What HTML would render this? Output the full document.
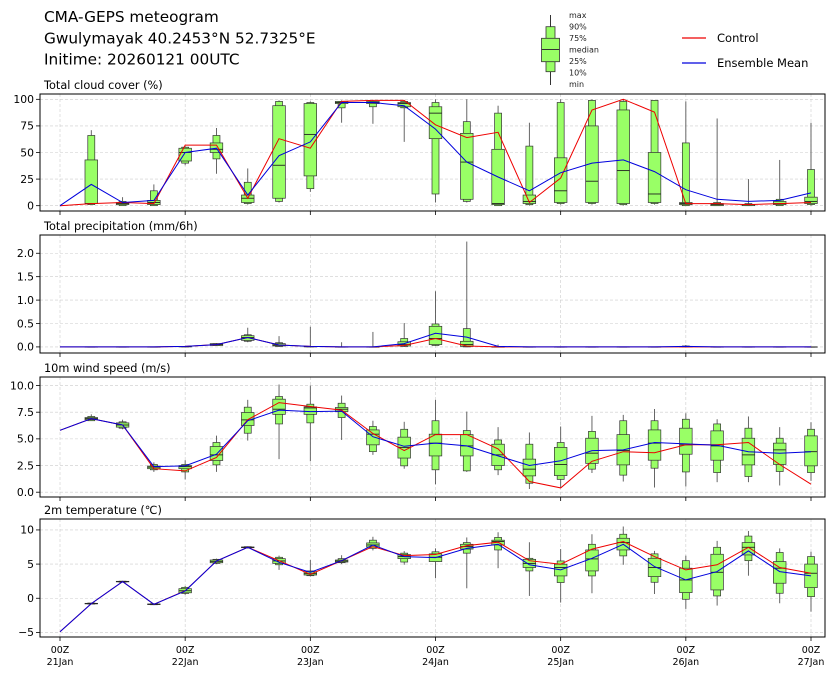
<!DOCTYPE html>
<html><head><meta charset="utf-8">
<style>
body{margin:0;background:#fff;}
svg{display:block;font-family:"DejaVu Sans","Liberation Sans",sans-serif;}
</style></head>
<body>
<svg id="chart" width="837" height="680" viewBox="0 0 837 680" xmlns="http://www.w3.org/2000/svg">
<text x="44" y="22" font-size="15.3">CMA-GEPS meteogram</text>
<text x="44" y="43.5" font-size="15.3">Gwulymayak 40.2453°N 52.7325°E</text>
<text x="44" y="64.5" font-size="15.3">Initime: 20260121 00UTC</text>
<g>
<line x1="550.5" y1="15" x2="550.5" y2="85" stroke="#333" stroke-width="1"/>
<rect x="546" y="26.7" width="9" height="45" fill="#99ff66" stroke="#333" stroke-width="0.8"/>
<rect x="541.5" y="38.3" width="18" height="23.4" fill="#99ff66" stroke="#333" stroke-width="0.8"/>
<line x1="541.5" y1="49.5" x2="559.5" y2="49.5" stroke="#333" stroke-width="1"/>
<g font-size="8" fill="#222">
<text x="569" y="18">max</text><text x="569" y="29.5">90%</text><text x="569" y="41">75%</text><text x="569" y="52.5">median</text><text x="569" y="64">25%</text><text x="569" y="75.5">10%</text><text x="569" y="87">min</text>
</g></g>
<g><line x1="682" y1="38" x2="706" y2="38" stroke="#e00" stroke-width="1.2"/><text x="717" y="42" font-size="11.5">Control</text></g>
<g><line x1="682" y1="63" x2="706" y2="63" stroke="#00d" stroke-width="1.2"/><text x="717" y="67" font-size="11.5">Ensemble Mean</text></g>
</svg>
<script>
// ---- data ----
const dayLabels = ["21Jan","22Jan","23Jan","24Jan","25Jan","26Jan","27Jan"];
// cloud cover (%)
const cloudMin = [null,1,0,0,38,30,1,3,13,78,77,60,3,3,0,0,1,1,0,1,0,0,0,0,0];
const cloudP10 = [null,1,0,0,40,44,2,4,16,92,93,92,11,4,0,1,2,2,1,2,0,0,0,0,1];
const cloudP25 = [null,2,1,1,42,50,3,7,28,96,96,93,63,6,1,2,3,3,2,3,1,0,0,1,2];
const cloudMed = [null,2,2,3,50,53,7,38,67,97,97,96,87,41,2,4,14,23,33,11,2,1,1,2,4];
const cloudP75 = [null,43,3,5,54,59,10,94,96,98,98,97,93,68,53,10,45,75,90,50,3,2,1,4,8];
const cloudP90 = [null,66,4,14,55,66,22,98,97,98,98,98,97,79,87,56,97,99,98,99,59,3,2,6,34];
const cloudMax = [null,71,8,20,56,73,35,99,98,99,99,99,100,100,94,78,100,100,100,99,98,82,25,43,78];
const cloudCtrl = [0,2,3,2,57,57,7,63,54,98,99,99,76,64,69,3,26,90,100,88,2,2,1,2,3];
const cloudMean = [0,20,3,5,50,54,10,47,60,97,97,94,72,41,27,14,31,40,43,32,15,6,4,5,12];
// precipitation (mm/6h)
const prMin = [null,0,0,0,0,0.02,0.10,0,0,0,0,0,0.02,0,0,0,0,0,0,0,0,0,0,0,0];
const prP10 = [null,0,0,0,0,0.03,0.12,0.01,0,0,0,0.01,0.03,0,0,0,0,0,0,0,0,0,0,0,0];
const prP25 = [null,0,0,0,0,0.03,0.14,0.02,0,0,0,0.02,0.05,0.01,0,0,0,0,0,0,0,0,0,0,0];
const prMed = [null,0,0,0,0.01,0.05,0.20,0.04,0.01,0,0,0.05,0.18,0.05,0,0,0,0,0,0,0.01,0,0,0,0];
const prP75 = [null,0,0,0,0.01,0.07,0.24,0.07,0.01,0,0,0.11,0.44,0.12,0,0,0,0,0,0,0.01,0,0,0,0];
const prP90 = [null,0,0,0,0.01,0.07,0.26,0.09,0.01,0,0,0.18,0.49,0.39,0.01,0,0,0,0,0,0.02,0,0,0,0];
const prMax = [null,0,0,0,0.02,0.08,0.41,0.23,0.43,0.10,0.32,0.51,1.19,2.25,0.05,0,0,0,0,0,0.04,0,0,0,0];
const prCtrl = [0,0,0,0,0.01,0.05,0.20,0.04,0.01,0,0,0.03,0.18,0.02,0,0,0,0,0,0,0,0,0,0,0];
const prMean = [0,0,0,0,0.01,0.05,0.20,0.04,0.01,0,0,0.07,0.29,0.21,0.01,0,0,0,0,0,0.01,0,0,0,0];
// wind speed (m/s)
const wMin = [null,6.7,5.9,1.9,1.2,1.9,4.84,3.1,2.9,4.9,3.5,2.2,0.75,1.9,1.6,0.3,0.4,1.8,1.0,0.44,0.53,0.94,0.94,0.63,1.06];
const wP10 = [null,6.7,6.0,2.1,1.9,2.56,5.53,6.4,6.5,7.0,3.8,2.47,2.1,2.0,2.1,0.84,1.2,2.16,1.6,2.25,1.9,1.84,1.47,1.94,1.84];
const wP25 = [null,6.8,6.1,2.2,2.2,2.97,6.25,7.3,7.3,7.56,4.44,3.2,3.4,3.4,2.5,1.53,1.56,2.7,2.56,3.0,3.56,3.0,2.56,2.6,2.47];
const wMed = [null,6.9,6.3,2.35,2.4,3.5,6.78,7.78,7.9,7.78,5.44,4.2,4.6,4.34,3.5,2.16,2.6,3.66,3.9,4.6,4.44,4.34,3.5,3.97,3.8];
const wP75 = [null,7.0,6.5,2.45,2.5,4.28,7.47,8.72,8.0,7.94,5.84,5.16,5.44,5.4,4.5,3.1,4.2,5.06,5.4,5.84,6.0,5.75,5.06,4.6,5.28];
const wP90 = [null,7.1,6.6,2.6,2.6,4.66,7.97,8.97,8.25,8.34,6.16,5.9,6.7,5.78,4.9,4.5,4.66,5.7,6.7,6.7,6.84,6.4,6.0,5.06,5.9];
const wMax = [null,7.3,6.8,2.8,3.0,5.3,8.66,10.1,10.0,9.06,6.7,6.6,8.66,7.56,6.1,5.6,6.16,7.16,7.25,7.8,7.4,6.84,7.1,6.1,6.56];
const wCtrl = [5.8,6.9,6.3,2.2,2.0,3.25,6.8,8.4,8.03,7.7,5.5,3.9,5.4,5.4,4.06,1.0,0.4,2.9,3.8,3.7,4.44,4.44,4.66,2.6,0.75];
const wMean = [5.8,6.9,6.3,2.4,2.47,3.56,6.7,7.7,7.56,7.6,5.2,4.3,4.6,4.34,3.4,2.5,2.94,3.9,3.97,4.66,4.53,4.4,3.8,3.66,3.8];
// 2m temperature (C)
const tMin = [null,-0.9,2.3,-1.0,0.5,5.0,7.3,4.15,3.2,5.0,7.0,4.9,2.93,1.46,4.4,0.34,-0.63,0.73,4.9,0.63,-1.56,-1.07,3.3,-0.73,-1.95];
const tP10 = [null,-0.85,2.35,-0.95,0.7,5.1,7.35,4.9,3.3,5.2,7.3,5.3,5.4,6.6,7.07,4.0,2.3,3.27,6.2,2.34,-0.15,0.34,5.5,0.73,0.24];
const tP25 = [null,-0.82,2.4,-0.92,0.8,5.2,7.4,5.1,3.4,5.3,7.5,5.8,5.37,7.2,7.8,4.5,3.27,4.0,7.07,3.17,0.83,1.22,6.34,2.2,1.56];
const tMed = [null,-0.78,2.44,-0.88,1.1,5.4,7.46,5.46,3.6,5.45,7.8,6.1,6.0,7.56,8.3,5.1,4.5,5.76,8.15,4.5,2.68,3.8,7.46,4.4,3.66];
const tP75 = [null,-0.74,2.48,-0.84,1.4,5.6,7.5,5.8,3.9,5.6,8.1,6.4,6.5,7.9,8.5,5.7,4.98,7.07,8.78,5.85,4.4,6.44,8.15,5.37,5.0];
const tP90 = [null,-0.7,2.5,-0.8,1.6,5.7,7.55,6.0,4.0,5.8,8.5,6.6,6.8,8.15,8.9,5.85,5.46,7.9,9.37,6.5,5.5,7.46,9.1,6.7,6.1];
const tMax = [null,-0.65,2.55,-0.75,1.8,5.8,7.6,6.24,5.6,6.3,9.0,6.9,7.3,8.9,9.66,8.2,7.2,9.37,10.5,6.93,6.24,8.4,9.85,7.3,6.8];
const tCtrl = [-4.9,-0.78,2.44,-0.88,1.1,5.46,7.46,5.5,3.5,5.5,7.56,6.24,6.4,7.7,8.2,5.5,4.98,7.2,8.3,6.1,4.15,4.9,7.46,4.5,3.66];
const tMean = [-4.9,-0.78,2.44,-0.88,1.07,5.46,7.46,5.27,3.8,5.5,7.8,6.1,5.95,7.3,7.9,4.9,4.15,5.85,7.9,4.63,2.68,3.9,6.93,3.9,3.27];
const cloudTicks = [0,25,50,75,100];
const prTicks = [0,0.5,1.0,1.5,2.0];
const wTicks = [0,2.5,5.0,7.5,10.0];
const tTicks = [-5,0,5,10];

const NS = "http://www.w3.org/2000/svg";
const svg = document.getElementById('chart');
const X0 = 40, X1 = 825;
function xAt(i){ return 60 + (811-60) * i / 24; }
function mk(tag, attrs, parent){
  const e = document.createElementNS(NS, tag);
  for (const k in attrs) e.setAttribute(k, attrs[k]);
  (parent||svg).appendChild(e);
  return e;
}
const minus = s => s.replace('-', '\u2212');
const panels = [
  {name:'cloud', title:'Total cloud cover (%)', top:94, bot:211, lo:-5, hi:105, ticks:cloudTicks, fmt:v=>String(v),
   s:[cloudMin,cloudP10,cloudP25,cloudMed,cloudP75,cloudP90,cloudMax], ctrl:cloudCtrl, mean:cloudMean},
  {name:'precip', title:'Total precipitation (mm/6h)', top:235, bot:353, lo:-0.13, hi:2.39, ticks:prTicks, fmt:v=>v.toFixed(1),
   s:[prMin,prP10,prP25,prMed,prP75,prP90,prMax], ctrl:prCtrl, mean:prMean},
  {name:'wind', title:'10m wind speed (m/s)', top:377, bot:497, lo:-0.45, hi:10.8, ticks:wTicks, fmt:v=>v.toFixed(1),
   s:[wMin,wP10,wP25,wMed,wP75,wP90,wMax], ctrl:wCtrl, mean:wMean},
  {name:'temperature', title:'2m temperature (\u2103)', top:519, bot:637, lo:-5.67, hi:11.6, ticks:tTicks, fmt:v=>minus(String(v)),
   s:[tMin,tP10,tP25,tMed,tP75,tP90,tMax], ctrl:tCtrl, mean:tMean}
];
panels.forEach((p, pi) => {
  const y = v => p.bot - (v - p.lo) / (p.hi - p.lo) * (p.bot - p.top);
  const g = mk('g', {});
  
  
  const t = mk('text', {x:44, y:p.top-5, 'font-size':11.3}, g);
  
  
  t.textContent = p.title;
  for (let d = 0; d < 7; d++) {
    const gx = xAt(d*4);
    const gl = mk('line', {x1:gx, x2:gx, y1:p.top, y2:p.bot, stroke:'#ccc', 'stroke-width':0.6, 'stroke-dasharray':'3,2'}, g);
    
    
    const tk = mk('line', {x1:gx, x2:gx, y1:p.bot, y2:p.bot+4, stroke:'#000', 'stroke-width':0.8}, g);
    
    
  }
  p.ticks.forEach(v => {
    const yy = y(v);
    const gl = mk('line', {x1:X0, x2:X1, y1:yy, y2:yy, stroke:'#ccc', 'stroke-width':0.6, 'stroke-dasharray':'3,2'}, g);
    
    
    const tk = mk('line', {x1:X0-4, x2:X0, y1:yy, y2:yy, stroke:'#000', 'stroke-width':0.8}, g);
    
    
    const tl = mk('text', {x:X0-6, y:yy+3.8, 'font-size':10.8, 'text-anchor':'end'}, g);
    
    
    tl.textContent = p.fmt(v);
  });
  const [mn,p10,p25,md,p75,p90,mx] = p.s;
  for (let i = 0; i < 25; i++) {
    if (mn[i] === null) continue;
    const cx = xAt(i);
    const bg = mk('g', {}, g);
    
    
    mk('line', {x1:cx, x2:cx, y1:y(mn[i]), y2:y(mx[i]), stroke:'#555', 'stroke-width':0.9}, bg);
    mk('rect', {x:cx-3.5, y:y(p90[i]), width:7, height:Math.max(0.3, y(p10[i])-y(p90[i])), fill:'#99ff66', stroke:'#333', 'stroke-width':0.7}, bg);
    mk('rect', {x:cx-6.3, y:y(p75[i]), width:12.6, height:Math.max(0.3, y(p25[i])-y(p75[i])), fill:'#99ff66', stroke:'#333', 'stroke-width':0.7}, bg);
    mk('line', {x1:cx-6.3, x2:cx+6.3, y1:y(md[i]), y2:y(md[i]), stroke:'#222', 'stroke-width':0.9}, bg);
  }
  const pts = arr => arr.map((v,i) => xAt(i).toFixed(1) + ',' + y(v).toFixed(1)).join(' ');
  const cl = mk('polyline', {points:pts(p.ctrl), fill:'none', stroke:'#e00', 'stroke-width':1}, g);
  
  
  const ml = mk('polyline', {points:pts(p.mean), fill:'none', stroke:'#00d', 'stroke-width':1}, g);
  
  
  const fr = mk('rect', {x:X0, y:p.top, width:X1-X0, height:p.bot-p.top, fill:'none', stroke:'#000', 'stroke-width':1}, g);
  
  
  if (pi === 3) {
    dayLabels.forEach((lab, d) => {
      const gx = xAt(d*4);
      const a = mk('text', {x:gx, y:p.bot+16, 'font-size':9.5, 'text-anchor':'middle'}, g);
      
      
      a.textContent = '00Z';
      const b = mk('text', {x:gx, y:p.bot+28, 'font-size':9.5, 'text-anchor':'middle'}, g);
      
      
      b.textContent = lab;
    });
  }
});
</script>
</body></html>
